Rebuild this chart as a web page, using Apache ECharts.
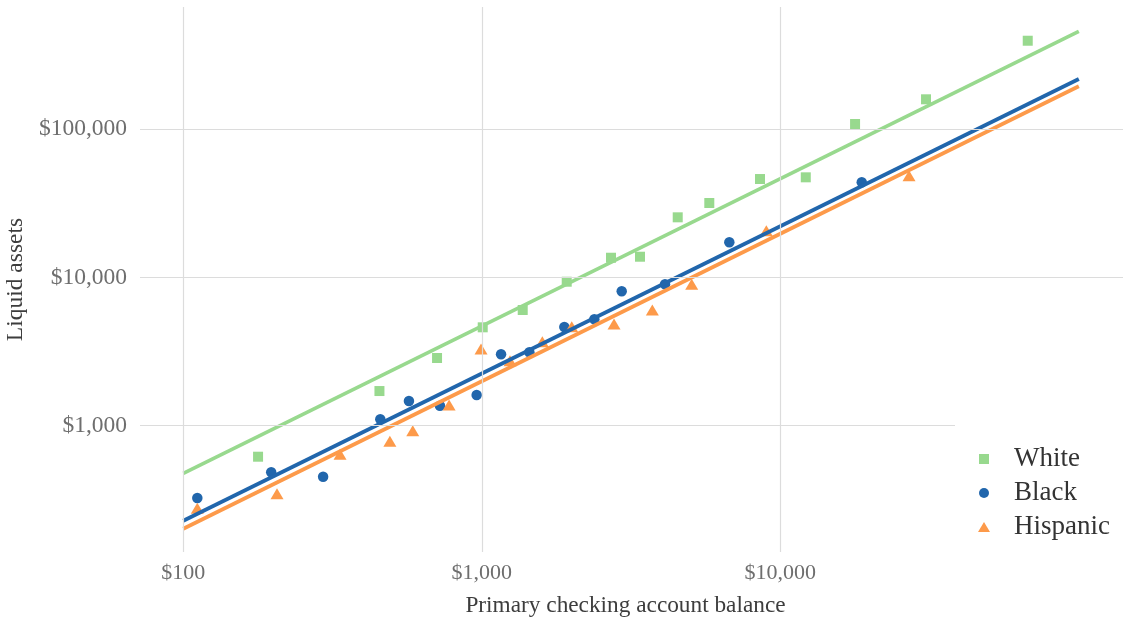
<!DOCTYPE html>
<html>
<head>
<meta charset="utf-8">
<script src="https://cdn.jsdelivr.net/npm/echarts@6/dist/echarts.min.js"></script>
<style>
html,body{margin:0;padding:0;background:#ffffff;}
#chart{width:1123px;height:622px;}
</style>
</head>
<body>
<div id="chart"></div>
<script>
// ---- tick labels / gridlines ----
const xTicks = [100, 1000, 10000];
const yTicks = [1000, 10000, 100000];

// ---- series names ----
const seriesNames = ['White', 'Black', 'Hispanic'];

// ---- scatter points ----
const whiteX = [178, 454, 708, 1007, 1371, 1925, 2709, 3388, 4532, 5782, 8551, 12170, 17800, 30770, 67430];
const whiteY = [618, 1714, 2864, 4613, 6039, 9369, 13600, 13815, 25480, 31820, 46190, 47430, 108600, 159400, 396000];

const blackX = [111.4, 197, 294, 457, 570, 724, 961, 1160, 1443, 1890, 2382, 2942, 4109, 6748, 18740];
const blackY = [325, 485, 453, 1105, 1468, 1365, 1611, 3033, 3128, 4634, 5224, 8071, 8999, 17280, 43900];

const hispX = [111.4, 206, 335, 492, 587, 777, 994, 1243, 1595, 2001, 2773, 3726, 5048, 8977, 26990];
const hispY = [277, 347, 641, 785, 925, 1379, 3292, 2746, 3688, 4656, 4855, 6036, 8999, 20660, 48640];

// ---- fitted lines (endpoints) ----
const fitX = [100, 100000];
const whiteFitY = [477, 458400];
const blackFitY = [228.6, 218500];
const hispFitY = [201.8, 195100];

// ---- colours ----
const colWhite = '#98d98e';
const colBlack = '#2166ac';
const colHisp = '#fd9a4a';

const zip = (a, b) => a.map((v, i) => [v, b[i]]);
const fmtMoney = v => '$' + String(v).replace(/\B(?=(\d{3})+(?!\d))/g, ',');
function decadeLabel(ticks) {
  return function (v) {
    const l = Math.log10(v);
    const r = Math.round(l);
    if (Math.abs(l - r) < 1e-6) {
      const p = Math.pow(10, r);
      if (ticks.indexOf(p) >= 0) return fmtMoney(p);
    }
    return '';
  };
}

const FONT = '"Liberation Serif", "Times New Roman", serif';
const gridColor = '#dcdcdc';

const chart = echarts.init(document.getElementById('chart'), null, {renderer: 'canvas'});

const option = {
  backgroundColor: '#ffffff',
  animation: false,
  grid: {left: 140, right: 0, top: 7, bottom: 70, containLabel: false, outerBoundsMode: 'none'},
  xAxis: {
    type: 'log', logBase: 10, min: 71.6, max: 140600,
    axisLine: {show: false}, axisTick: {show: false}, splitLine: {show: false},
    axisLabel: {formatter: decadeLabel(xTicks), color: '#6e6e6e', fontFamily: FONT, fontSize: 22, margin: 10},
    name: 'Primary checking account balance', nameLocation: 'middle', nameGap: 42,
    nameTextStyle: {color: '#3d3d3d', fontFamily: FONT, fontSize: 23.3, padding: [0, 12, 0, 0]}
  },
  yAxis: {
    type: 'log', logBase: 10, min: 140.6, max: 668800,
    axisLine: {show: false}, axisTick: {show: false}, splitLine: {show: false},
    axisLabel: {formatter: decadeLabel(yTicks), color: '#6e6e6e', fontFamily: FONT, fontSize: 23.5, margin: 13},
    name: 'Liquid assets', nameLocation: 'middle', nameGap: 107,
    nameTextStyle: {color: '#3d3d3d', fontFamily: FONT, fontSize: 23.5}
  },
  legend: {
    orient: 'vertical', left: 955, top: 422,
    padding: [20, 20, 20, 23],
    backgroundColor: '#ffffff',
    itemGap: 0, itemWidth: 12, itemHeight: 10,
    data: [
      {name: 'White', icon: 'path://M0,0L10,0L10,10L0,10Z'},
      {name: 'Black', icon: 'circle'},
      {name: 'Hispanic', icon: 'triangle'}
    ],
    textStyle: {color: '#333333', fontFamily: FONT, fontSize: 27, lineHeight: 34, padding: [0, 0, 0, 19]},
    selectedMode: false, z: 10
  },
  series: [
    {
      name: 'grid', type: 'scatter', data: [], silent: true, z: 0,
      markLine: {
        silent: true, symbol: 'none', animation: false,
        label: {show: false},
        lineStyle: {color: gridColor, width: 1.2, type: 'solid'},
        emphasis: {disabled: true},
        data: xTicks.map(v => ({xAxis: v})).concat(yTicks.map(v => ({yAxis: v})))
      }
    },
    {name: 'White', type: 'scatter', data: zip(whiteX, whiteY), symbol: 'rect', symbolSize: 10,
     itemStyle: {color: colWhite, opacity: 1}, z: 2},
    {name: 'Black', type: 'scatter', data: zip(blackX, blackY), symbol: 'circle', symbolSize: 10.5,
     itemStyle: {color: colBlack, opacity: 1}, z: 2},
    {name: 'Hispanic', type: 'scatter', data: zip(hispX, hispY), symbol: 'triangle', symbolSize: [13, 11],
     itemStyle: {color: colHisp, opacity: 1}, z: 2},
    {name: 'White fit', type: 'line', data: zip(fitX, whiteFitY), showSymbol: false, symbol: 'none',
     lineStyle: {color: colWhite, width: 3.6}, itemStyle: {color: colWhite}, z: 3, silent: true},
    {name: 'Black fit', type: 'line', data: zip(fitX, blackFitY), showSymbol: false, symbol: 'none',
     lineStyle: {color: colBlack, width: 3.8}, itemStyle: {color: colBlack}, z: 3, silent: true},
    {name: 'Hispanic fit', type: 'line', data: zip(fitX, hispFitY), showSymbol: false, symbol: 'none',
     lineStyle: {color: colHisp, width: 3.8}, itemStyle: {color: colHisp}, z: 3, silent: true}
  ]
};
chart.setOption(option);
</script>
</body>
</html>
